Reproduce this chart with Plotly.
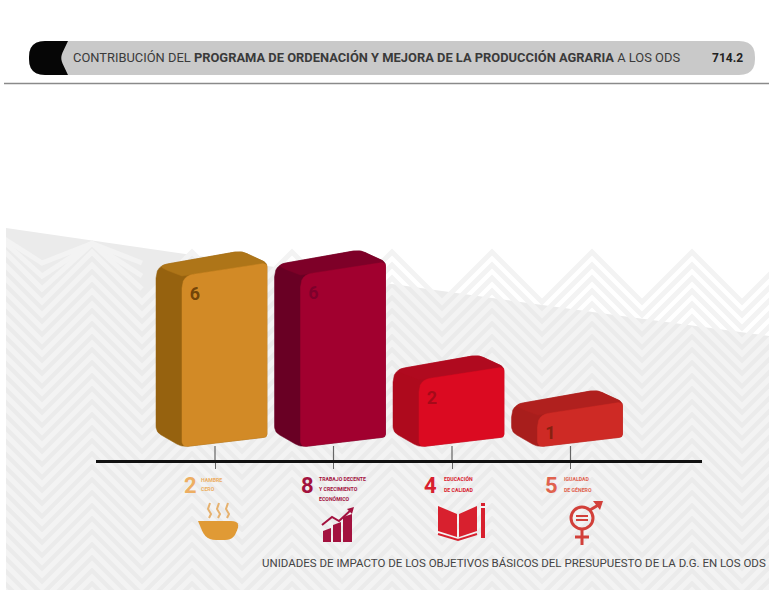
import plotly.graph_objects as go

# ---------- data ----------
goals = ["ODS 2", "ODS 8", "ODS 4", "ODS 5"]
goal_numbers = ["2", "8", "4", "5"]
goal_names = [["HAMBRE", "CERO"],
              ["TRABAJO DECENTE", "Y CRECIMIENTO", "ECONÓMICO"],
              ["EDUCACIÓN", "DE CALIDAD"],
              ["IGUALDAD", "DE GÉNERO"]]
impact_units = [6, 6, 2, 1]
# drawn block heights (the source scale is not proportional)
drawn_heights = [174, 175, 70, 35]
front_colors = ["#D28A26", "#A1002F", "#DB0A21", "#CE2A25"]
side_colors = ["#96620F", "#690024", "#AE0A1D", "#A81E1C"]
top_colors = ["#AE7518", "#7E0028", "#B00A1F", "#B0201E"]
label_colors = ["rgba(90,50,0,.8)", "rgba(90,0,40,.5)", "rgba(130,10,20,.6)", "rgba(110,30,10,.75)"]
goal_colors = ["#EDAE62", "#A3123F", "#D8202E", "#E0624E"]
title_plain = "CONTRIBUCIÓN DEL <b>PROGRAMA DE ORDENACIÓN Y MEJORA DE LA PRODUCCIÓN AGRARIA</b> A LOS ODS"
program_code = "714.2"
foot = "UNIDADES DE IMPACTO DE LOS OBJETIVOS BÁSICOS DEL PRESUPUESTO DE LA D.G. EN LOS ODS"

# ---------- page geometry ----------
W, H = 769, 590
L, R, T, B = 96, 702, 0, 460      # plot box = the baseline span
X0, DX = 215, 118.5               # first tick and tick spacing (pixels)
ZERO = 437                        # pixel row of y=0
FONT = "Roboto, sans-serif"


def px(x):
    return (x - L) / (R - L)


def py(y):
    return 1 - (y - T) / (B - T)


def path(points, close=True):
    s = "M" + " L".join(f"{px(x):.5f},{py(y):.5f}" for x, y in points)
    return s + (" Z" if close else "")


def shape_poly(points, fill, layer="below", close=True, line=None, width=0):
    return dict(type="path", xref="paper", yref="paper", path=path(points, close), layer=layer,
                fillcolor=fill if close else "rgba(0,0,0,0)",
                line=dict(color=line or "rgba(0,0,0,0)", width=width))


def rounded(points, radii, n=6):
    out = []
    m = len(points)
    for i, p in enumerate(points):
        r = radii[i]
        a, b = points[i - 1], points[(i + 1) % m]
        if r == 0:
            out.append(p)
            continue
        da = ((a[0] - p[0]) ** 2 + (a[1] - p[1]) ** 2) ** .5
        db = ((b[0] - p[0]) ** 2 + (b[1] - p[1]) ** 2) ** .5
        s = (p[0] + (a[0] - p[0]) * r / da, p[1] + (a[1] - p[1]) * r / da)
        e = (p[0] + (b[0] - p[0]) * r / db, p[1] + (b[1] - p[1]) * r / db)
        for k in range(n + 1):
            t = k / n
            out.append(((1 - t) ** 2 * s[0] + 2 * t * (1 - t) * p[0] + t * t * e[0],
                        (1 - t) ** 2 * s[1] + 2 * t * (1 - t) * p[1] + t * t * e[1]))
    return out


def wedge_y(x):
    return 228 + (x - 6) * (283 - 228) / (385 - 6)


shapes = []
# grey wedge background
wedge = [(6, 228), (385, 283), (600, 313), (769, 336), (769, 590), (6, 590)]
shapes.append(shape_poly(wedge, "#EBEBEB"))
# chevron pattern
PERIOD, AMP, STEP = 100, 50, 13
for k in range(-3, 27):
    pts = []
    start = 92 - PERIOD
    i = 0
    while start + i * PERIOD / 2 < W + PERIOD:
        xx = start + i * PERIOD / 2
        yy = 252 + k * STEP + (AMP if i % 2 else 0)
        if k >= 0 or xx <= 142:
            pts.append((xx, yy))
        i += 1
    if k < 0:
        pts = [(a, max(b, wedge_y(max(a, 6)) + 3)) for a, b in pts]
    shapes.append(shape_poly(pts, None, close=False, line="#F3F3F3", width=5))
# mask of the left white margin
shapes.append(dict(type="rect", xref="paper", yref="paper", x0=px(0), x1=px(6), y0=py(590), y1=py(0),
                   fillcolor="white", line=dict(width=0), layer="below"))

# header
shapes.append(shape_poly(rounded([(29, 41), (755, 41), (755, 75), (29, 75)], [16, 16, 16, 16]), "#C9C9C9"))
cap = rounded([(29, 41), (68, 41), (60, 58), (68, 75), (29, 75)], [16, 0, 6, 0, 16])
shapes.append(shape_poly(cap, "#060606"))
shapes.append(dict(type="line", xref="paper", yref="paper", x0=px(4), x1=px(769), y0=py(83.5), y1=py(83.5),
                   line=dict(color="#8A8A8A", width=1.5), layer="below"))

# icons -------------------------------------------------------------
wine = goal_colors[1]
orange = "#E09A35"
# soup bowl
bowl = rounded([(198, 521), (241, 521), (233, 540), (206, 540)], [0, 10, 8, 10])
shapes.append(shape_poly(bowl, orange, layer="above"))
for x in (209, 218, 227):
    pts = [(x, 518), (x + 2, 514), (x - 1, 509), (x + 1, 503)]
    shapes.append(shape_poly(pts, None, close=False, line="#E6B16E", width=2, layer="above"))
# growth chart
for x0, x1, top in ((323, 331, 528), (333, 341, 522), (343, 352, 514)):
    shapes.append(shape_poly([(x0, top + 3), (x1, top), (x1, 542), (x0, 542)], wine, layer="above"))
shapes.append(shape_poly([(322, 525), (332, 517), (339, 521), (352, 509)], None, close=False, line=wine, width=2, layer="above"))
shapes.append(shape_poly([(347, 509), (354, 507), (352, 514)], wine, layer="above"))
# book
shapes.append(shape_poly([(438, 506), (457, 514), (457, 537), (438, 531)], "#D8202E", layer="above"))
shapes.append(shape_poly([(477, 506), (459, 514), (459, 537), (477, 531)], "#D8202E", layer="above"))
shapes.append(shape_poly([(438, 534), (458, 540), (477, 534)], None, close=False, line="#D8202E", width=2, layer="above"))
shapes.append(shape_poly([(481, 508), (485, 508), (485, 538), (481, 538)], "#D8202E", layer="above"))
shapes.append(shape_poly([(481, 503), (485, 503), (485, 506), (481, 506)], "#D8202E", layer="above"))
# gender symbol
gc = "#D2403A"
shapes.append(dict(type="circle", xref="paper", yref="paper", x0=px(571), x1=px(593), y0=py(529), y1=py(507),
                   fillcolor="rgba(0,0,0,0)", line=dict(color=gc, width=3), layer="above"))
for yy in (516, 520):
    shapes.append(shape_poly([(576, yy), (588, yy)], None, close=False, line=gc, width=2, layer="above"))
shapes.append(shape_poly([(582, 530), (582, 545)], None, close=False, line=gc, width=3, layer="above"))
shapes.append(shape_poly([(575, 537), (589, 537)], None, close=False, line=gc, width=3, layer="above"))
shapes.append(shape_poly([(590, 510), (600, 504)], None, close=False, line=gc, width=3, layer="above"))
shapes.append(shape_poly([(593, 501), (603, 501), (600, 510)], gc, layer="above"))

# ---------- traces ----------
fig = go.Figure()


def poly_trace(i, pts, color):
    xs = [i + a / DX for a, _ in pts]
    ys = [b for _, b in pts]
    return go.Scatter(x=xs + xs[:1], y=ys + ys[:1], mode="lines", fill="toself", fillcolor=color,
                      line=dict(color=color, width=0.5), hoverinfo="skip", showlegend=False)


# stems rising from the axis to the blocks
for i in range(len(goals)):
    fig.add_trace(go.Scatter(x=[i, i], y=[ZERO - B, ZERO - 446], mode="lines",
                             line=dict(color="#666666", width=1.2), hoverinfo="skip", showlegend=False))

OFF = 52     # block right edge relative to its tick
for i, h in enumerate(drawn_heights):
    r = OFF
    fl = r - 85
    sl = r - 111
    silhouette = rounded([(sl, h - 3), (r - 26, h + 12), (r, h), (r, 0), (fl, -10), (sl, 5)], [12, 6, 4, 3, 6, 6])
    top = rounded([(sl, h - 3), (r - 26, h + 12), (r, h), (fl, h - 13)], [12, 6, 4, 0])
    front = rounded([(fl, h - 13), (r, h), (r, 0), (fl, -10)], [min(12, h / 3), 4, 3, 6])
    fig.add_trace(poly_trace(i, silhouette, side_colors[i]))
    fig.add_trace(poly_trace(i, top, top_colors[i]))
    fig.add_trace(poly_trace(i, front, front_colors[i]))
    fig.add_trace(go.Scatter(x=[i + (r - 72) / DX], y=[h - 32], mode="text", text=[f"<b>{impact_units[i]}</b>"],
                             textposition="middle center", hoverinfo="skip", showlegend=False,
                             textfont=dict(size=18, color=label_colors[i], family=FONT)))

# ---------- annotations ----------
ann = []


def note(x, y, text, size, color, anchor="left"):
    ann.append(dict(xref="paper", yref="paper", x=px(x), y=py(y), text=text, showarrow=False, xanchor=anchor,
                    yanchor="middle", font=dict(size=size, color=color, family=FONT), align="left", borderpad=0))


note(72, 58, title_plain, 12.9, "#3A3A3A")
note(711, 58, f"<b>{program_code}</b>", 12, "#222222")
note(261, 563, foot, 11.5, "#444444")
num_x = [190, 307, 430, 551]
txt_x = [200, 318, 443, 563]
line_y = [[480, 489], [479, 489, 499], [479, 490], [479, 490]]
for i in range(4):
    note(num_x[i], 485, f"<b>{goal_numbers[i]}</b>", 22, goal_colors[i], anchor="center")
    for s, yy in zip(goal_names[i], line_y[i]):
        note(txt_x[i], yy, f"<b>{s}</b>", 5.2, goal_colors[i])

fig.update_layout(
    width=W, height=H, autosize=False,
    margin=dict(l=L, r=W - R, t=T, b=H - B, pad=0),
    paper_bgcolor="white", plot_bgcolor="rgba(0,0,0,0)",
    showlegend=False, shapes=shapes, annotations=ann,
    xaxis=dict(range=[(L - X0) / DX, (R - X0) / DX], tickmode="array", tickvals=list(range(4)),
               ticktext=[""] * 4, ticks="outside", ticklen=6, tickcolor="#666666", tickwidth=1.2,
               showgrid=False, zeroline=False, showline=True, linecolor="#111111", linewidth=3, fixedrange=True),
    yaxis=dict(range=[ZERO - B, ZERO - T], visible=False, showgrid=False, zeroline=False, fixedrange=True),
)
fig.write_html("out.html", config=dict(displayModeBar=False),
               post_script="document.body.style.margin='0';document.documentElement.style.overflow='hidden';")
